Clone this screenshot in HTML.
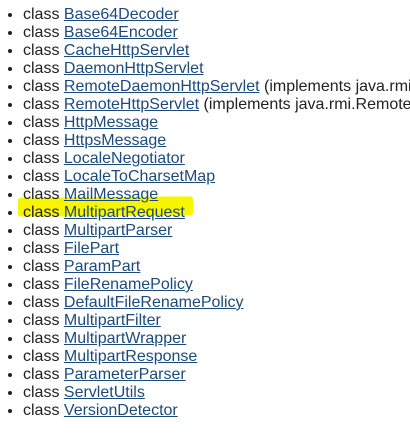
<!DOCTYPE html>
<html><head><meta charset="utf-8"><style>
html,body{margin:0;padding:0;width:410px;height:433px;overflow:hidden;background:#fff;}
body{font-family:"Liberation Sans",Arial,sans-serif;font-size:16px;color:#222;}
.wrap{position:relative;width:410px;height:433px;overflow:hidden;}
ul{margin:0;padding:0 0 0 23px;position:absolute;top:6px;left:0;width:387px;white-space:nowrap;overflow:hidden;}
li{line-height:18px;height:18px;list-style:disc;}
a{color:#1c4a7c;text-decoration:underline;}
.hl{position:absolute;left:18px;top:197px;width:175px;height:19px;background:#f7f500;border-radius:3px;transform:rotate(-0.4deg);}
</style></head><body>
<div class="wrap">
<div class="hl"></div>
<ul>
<li>class <a>Base64Decoder</a></li>
<li>class <a>Base64Encoder</a></li>
<li>class <a>CacheHttpServlet</a></li>
<li>class <a>DaemonHttpServlet</a></li>
<li>class <a>RemoteDaemonHttpServlet</a> (implements java.rmi.Remote)</li>
<li>class <a>RemoteHttpServlet</a> (implements java.rmi.Remote)</li>
<li>class <a>HttpMessage</a></li>
<li>class <a>HttpsMessage</a></li>
<li>class <a>LocaleNegotiator</a></li>
<li>class <a>LocaleToCharsetMap</a></li>
<li>class <a>MailMessage</a></li>
<li>class <a>MultipartRequest</a></li>
<li>class <a>MultipartParser</a></li>
<li>class <a>FilePart</a></li>
<li>class <a>ParamPart</a></li>
<li>class <a>FileRenamePolicy</a></li>
<li>class <a>DefaultFileRenamePolicy</a></li>
<li>class <a>MultipartFilter</a></li>
<li>class <a>MultipartWrapper</a></li>
<li>class <a>MultipartResponse</a></li>
<li>class <a>ParameterParser</a></li>
<li>class <a>ServletUtils</a></li>
<li>class <a>VersionDetector</a></li>
</ul>
</div>
</body></html>
